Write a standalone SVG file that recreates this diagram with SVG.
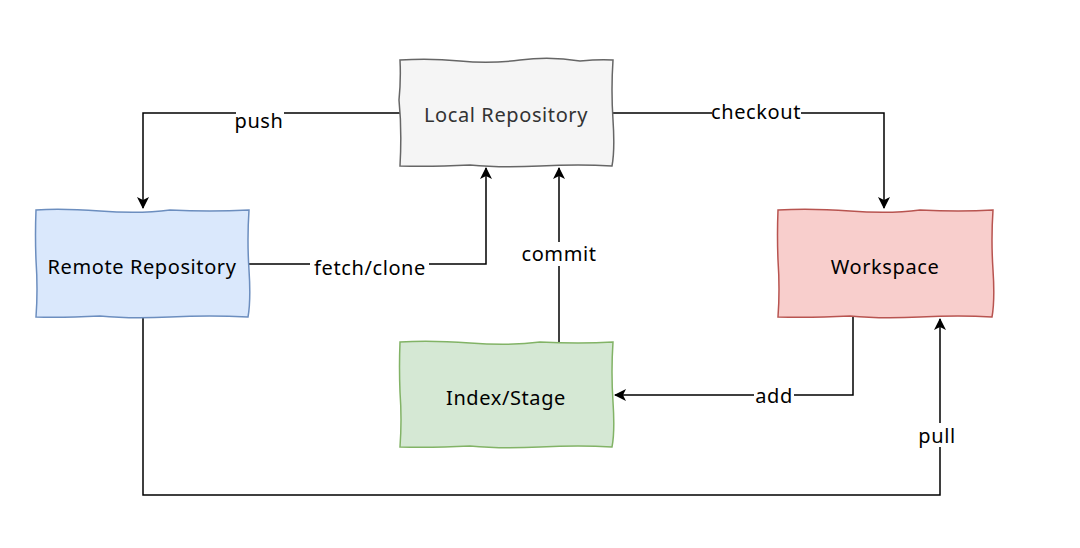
<svg xmlns="http://www.w3.org/2000/svg" width="1080" height="548" viewBox="0 0 1080 548">
<style>
text{font-family:"Noto Sans","DejaVu Sans",sans-serif;font-size:20px;letter-spacing:0.6px;text-anchor:middle;dominant-baseline:central}
.node text{fill:#000}
.edge{fill:none;stroke:#000;stroke-width:1.5}
.lbl{fill:#000}
.lblbg{fill:#fff}
</style>
<defs>
<marker id="arr" viewBox="0 0 12 12" refX="11" refY="6" markerWidth="12" markerHeight="12" markerUnits="userSpaceOnUse" orient="auto">
<path d="M0,0 L12,6 L0,12 L3,6 Z" fill="#000"/>
</marker>
</defs>
<rect width="1080" height="548" fill="#fff"/>
<g id="connectors">
<path class="edge" d="M400,113 H143 V208" marker-end="url(#arr)"/>
<path class="edge" d="M613,113 H884 V208" marker-end="url(#arr)"/>
<path class="edge" d="M249,264 H486 V168" marker-end="url(#arr)"/>
<path class="edge" d="M559,342 V168" marker-end="url(#arr)"/>
<path class="edge" d="M853,317 V395 H615" marker-end="url(#arr)"/>
<path class="edge" d="M143,317 V495 H940 V319" marker-end="url(#arr)"/>
<rect class="lblbg" x="236" y="108" width="48" height="24"/>
<text class="lbl" x="259" y="120">push</text>
<rect class="lblbg" x="712" y="100" width="89" height="24"/>
<text class="lbl" x="756" y="111">checkout</text>
<rect class="lblbg" x="310" y="255" width="119" height="24"/>
<text class="lbl" x="370" y="267">fetch/clone</text>
<rect class="lblbg" x="526" y="242" width="66" height="24"/>
<text class="lbl" x="559" y="253">commit</text>
<rect class="lblbg" x="754" y="384" width="40" height="24"/>
<text class="lbl" x="774" y="395">add</text>
<rect class="lblbg" x="918" y="423" width="38" height="24"/>
<text class="lbl" x="937" y="435">pull</text>
</g>
<g id="local" class="node">
<path d="M400,60 Q430,58 460,61 T520,60 T580,61 Q600,59 613,60 Q611,90 613,120 T612,166 Q580,164 540,166 T470,165 Q430,167 400,166 Q402,130 399,100 Q401,80 400,60 Z" fill="#f5f5f5" stroke="#666" stroke-width="1.5"/>
<text x="506" y="114" style="fill:#333">Local Repository</text>
</g>
<g id="remote" class="node">
<path d="M36,210 Q60,208 100,211 T170,210 Q210,212 249,210 Q247,240 249,270 T248,317 Q210,315 170,317 T100,316 Q60,318 36,317 Q38,290 36,260 Q35,235 36,210 Z" fill="#dae8fc" stroke="#6c8ebf" stroke-width="1.5"/>
<text x="142" y="266">Remote Repository</text>
</g>
<g id="workspace" class="node">
<path d="M778,210 Q810,208 850,211 T920,210 Q960,212 993,210 Q991,240 993,270 T992,317 Q960,315 920,317 T850,316 Q810,318 778,317 Q780,290 778,260 Q777,235 778,210 Z" fill="#f8cecc" stroke="#b85450" stroke-width="1.5"/>
<text x="885" y="266">Workspace</text>
</g>
<g id="index" class="node">
<path d="M400,342 Q430,340 470,343 T540,342 Q580,344 613,342 Q611,372 613,402 T612,447 Q580,445 540,447 T470,446 Q430,448 400,447 Q402,420 400,392 Q399,367 400,342 Z" fill="#d5e8d4" stroke="#82b366" stroke-width="1.5"/>
<text x="506" y="397">Index/Stage</text>
</g>
</svg>
